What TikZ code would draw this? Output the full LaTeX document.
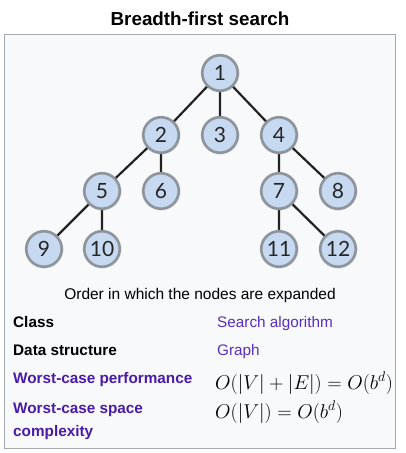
\documentclass[tikz,border=0pt]{standalone}
\usepackage{fix-cm}
\usepackage[no-math]{fontspec}
\setmainfont{Liberation Sans}
\newfontfamily\latofont{Lato}
\usetikzlibrary{shadows}
\pgfdeclarelayer{back}
\pgfdeclarelayer{bg}
\pgfsetlayers{back,bg,main}
\definecolor{boxfill}{HTML}{F8F9FA}
\definecolor{boxline}{HTML}{A2A9B1}
\definecolor{nodefill}{HTML}{C6D9F0}
\definecolor{noderim}{HTML}{8E949B}
\definecolor{linkc}{HTML}{5A2EC0}
\definecolor{linkb}{HTML}{4A1AA8}
\definecolor{edgec}{HTML}{222222}
\tikzset{
  treenode/.style={circle, minimum size=35.5pt, inner sep=0pt, fill=nodefill, draw=noderim, line width=2.6pt,
    font=\latofont\fontsize{21}{21}\selectfont, text=black!85,
    circular drop shadow={shadow xshift=0pt, shadow yshift=0pt, shadow scale=1.12, opacity=0.35}},
  edge/.style={draw=edgec, line width=2.2pt},
  lbl/.style={anchor=base west, inner sep=0pt, font=\fontsize{15.3}{18}\selectfont},
  lblb/.style={lbl, font=\fontsize{15.3}{18}\selectfont\bfseries},
  mth/.style={anchor=base west, inner sep=0pt, font=\fontsize{20}{22}\selectfont}
}
\begin{document}
\begin{tikzpicture}[x=1pt,y=-1pt]
\useasboundingbox (0,0) rectangle (405,453);
\begin{pgfonlayer}{back}
\fill[white] (0,0) rectangle (405,453);
\draw[boxline, fill=boxfill, line width=1pt] (4.5,34.5) rectangle (395.5,448.5);
\end{pgfonlayer}
\node[anchor=base, inner sep=0pt, font=\fontsize{18.8}{22}\selectfont\bfseries] (title) at (200,25) {Breadth-first search};
% nodes
\node[treenode] (n1) at (220,73) {1};
\node[treenode] (n2) at (161,135) {2};
\node[treenode] (n3) at (220,135) {3};
\node[treenode] (n4) at (279,135) {4};
\node[treenode] (n5) at (102,191) {5};
\node[treenode] (n6) at (161,191) {6};
\node[treenode] (n7) at (279,191) {7};
\node[treenode] (n8) at (338,191) {8};
\node[treenode] (n9) at (44,249) {9};
\node[treenode] (n10) at (102,249) {10};
\node[treenode] (n11) at (279,249) {11};
\node[treenode] (n12) at (338,249) {12};
\begin{pgfonlayer}{bg}
\path[edge] (n1.center) -- (n2.center) (n1.center) -- (n3.center) (n1.center) -- (n4.center)
  (n2.center) -- (n5.center) (n2.center) -- (n6.center) (n4.center) -- (n7.center) (n4.center) -- (n8.center)
  (n5.center) -- (n9.center) (n5.center) -- (n10.center) (n7.center) -- (n11.center) (n7.center) -- (n12.center);
\end{pgfonlayer}
\node[anchor=base, inner sep=0pt, font=\fontsize{15.5}{18}\selectfont] (cap) at (200,299) {Order in which the nodes are expanded};
% table
\node[lblb] (c1) at (13,327) {Class};
\node[lbl, text=linkc] (v1) at (217,327) {Search algorithm};
\node[lblb] (c2) at (13,355.5) {Data structure};
\node[lbl, text=linkc] (v2) at (217,355.5) {Graph};
\node[lblb, text=linkb] (c3) at (13,383) {Worst-case performance};
\node[mth] (v3) at (215,389) {$O(|V|+|E|)=O(b^d)$};
\node[lblb, text=linkb] (c4) at (13,413) {Worst-case space};
\node[lblb, text=linkb] (c4b) at (13,436) {complexity};
\node[mth] (v4) at (215,418) {$O(|V|)=O(b^d)$};
\end{tikzpicture}
\end{document}
